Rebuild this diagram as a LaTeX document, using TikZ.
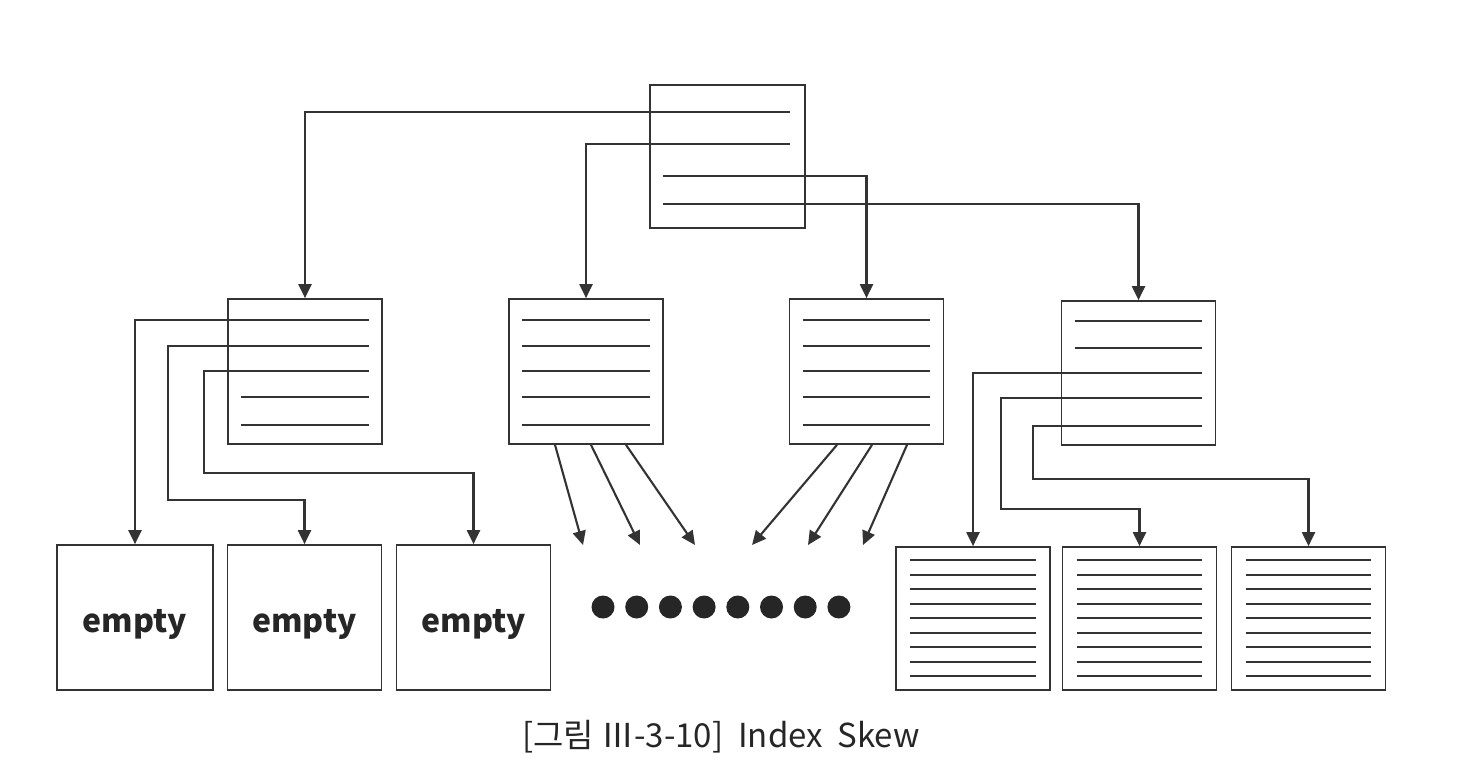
\documentclass[tikz,border=0pt]{standalone}
\usepackage{fontspec}
\newfontfamily\kor{Noto Sans CJK KR}
\usetikzlibrary{arrows.meta,calc}

\tikzset{
  page/.style={draw=black!80, line width=1.7pt, inner sep=0pt,
    minimum width=154pt, minimum height=144pt},
  entry/.style={draw=black!80, line width=2.1pt},
  slot/.style={draw=black!80, line width=1.7pt},
  link/.style={entry, -{Triangle[length=14pt,width=13pt]}},
  word/.style={font=\kor\bfseries\fontsize{32}{32}\selectfont, text=black!85, yshift=-7pt},
}

\begin{document}
\begin{tikzpicture}[x=1pt,y=-1pt]
\useasboundingbox (0,0) rectangle (1466,772);
% root and branch pages
\node[page, minimum width=155pt, minimum height=143pt] (root) at (727.5,156.5) {};
\node[page, minimum height=145pt] (b1) at (305,371.5) {};
\node[page, minimum height=145pt] (b2) at (586,371.5) {};
\node[page, minimum height=145pt] (b3) at (866.5,371.5) {};
\node[page] (b4) at (1138.5,373) {};
% leaf pages
\node[page, minimum width=156pt, minimum height=145pt] (e1) at (135,617.5) {};
\node[page, minimum height=145pt] (e2) at (304.5,617.5) {};
\node[page, minimum height=145pt] (e3) at (473.5,617.5) {};
\node[word] (w1) at (e1) {empty};
\node[word] (w2) at (e2) {empty};
\node[word] (w3) at (e3) {empty};
\node[page, minimum height=143pt] (f1) at (973,618.5) {};
\node[page, minimum height=143pt] (f2) at (1139.5,618.5) {};
\node[page, minimum height=143pt] (f3) at (1308.5,618.5) {};

% root entries
\coordinate (r1) at ($(root.north east)+(-16,28)$);
\coordinate (r2) at ($(root.north east)+(-16,60)$);
\coordinate (r3) at ($(root.north west)+(14,92)$);
\coordinate (r4) at ($(root.north west)+(14,120)$);
\draw[link] (r1) -| (b1);
\draw[link] (r2) -| (b2);
\draw[link] (r3) -| (b3);
\draw[link] (r4) -| (b4);

% entries of the middle pages
\foreach \b in {b2,b3}
  \foreach \y in {22,48,73,99,127}
    \draw[entry] ($(\b.north west)+(14,\y)$) -- ($(\b.north east)+(-14,\y)$);

% left page: three entries point to empty leaves
\coordinate (a1) at ($(b1.north east)+(-14,22)$);
\coordinate (a2) at ($(b1.north east)+(-14,48)$);
\coordinate (a3) at ($(b1.north east)+(-14,73)$);
\draw[link] (a1) -| (e1);
\draw[link] (a2) -| (168,500) -| (e2);
\draw[link] (a3) -| (204,473) -| (e3);
\draw[entry] ($(b1.north west)+(14,99)$) -- ($(b1.north east)+(-14,99)$);
\draw[entry] ($(b1.north west)+(14,127)$) -- ($(b1.north east)+(-14,127)$);

% right page: three entries point to full leaves
\draw[entry] ($(b4.north west)+(14,21)$) -- ($(b4.north east)+(-14,21)$);
\draw[entry] ($(b4.north west)+(14,48)$) -- ($(b4.north east)+(-14,48)$);
\coordinate (c1) at ($(b4.north east)+(-14,73)$);
\coordinate (c2) at ($(b4.north east)+(-14,98)$);
\coordinate (c3) at ($(b4.north east)+(-14,126)$);
\draw[link] (c1) -| (f1);
\draw[link] (c2) -| (1001,509) -| (f2);
\draw[link] (c3) -| (1033,479) -| (f3);

% full leaves
\foreach \f in {f1,f2,f3}
  \foreach \k in {0,...,8}
    \draw[slot] ($(\f.north west)+(15,14+14.5*\k)$) -- ($(\f.north east)+(-15,14+14.5*\k)$);

% pointers into the rest of the leaves
\coordinate (g1) at (583,545);
\coordinate (g2) at (640,545);
\coordinate (g3) at (695,545);
\coordinate (h1) at (752,545);
\coordinate (h2) at (808,545);
\coordinate (h3) at (863,545);
\draw[link] (b2.south -| 555,0) -- (g1);
\draw[link] (b2.south -| 591,0) -- (g2);
\draw[link] (b2.south -| 626,0) -- (g3);
\draw[link] (b3.south -| 837,0) -- (h1);
\draw[link] (b3.south -| 872,0) -- (h2);
\draw[link] (b3.south -| 907,0) -- (h3);

\foreach \i in {0,...,7}
  \fill[black!85] (603+33.7*\i,607) circle (11.5pt);

\node[font=\kor\fontsize{33}{33}\selectfont, text=black!85] (cap) at (721,737) {[그림 Ⅲ-3-10]\ \ Index\ \ Skew};
\end{tikzpicture}
\end{document}
